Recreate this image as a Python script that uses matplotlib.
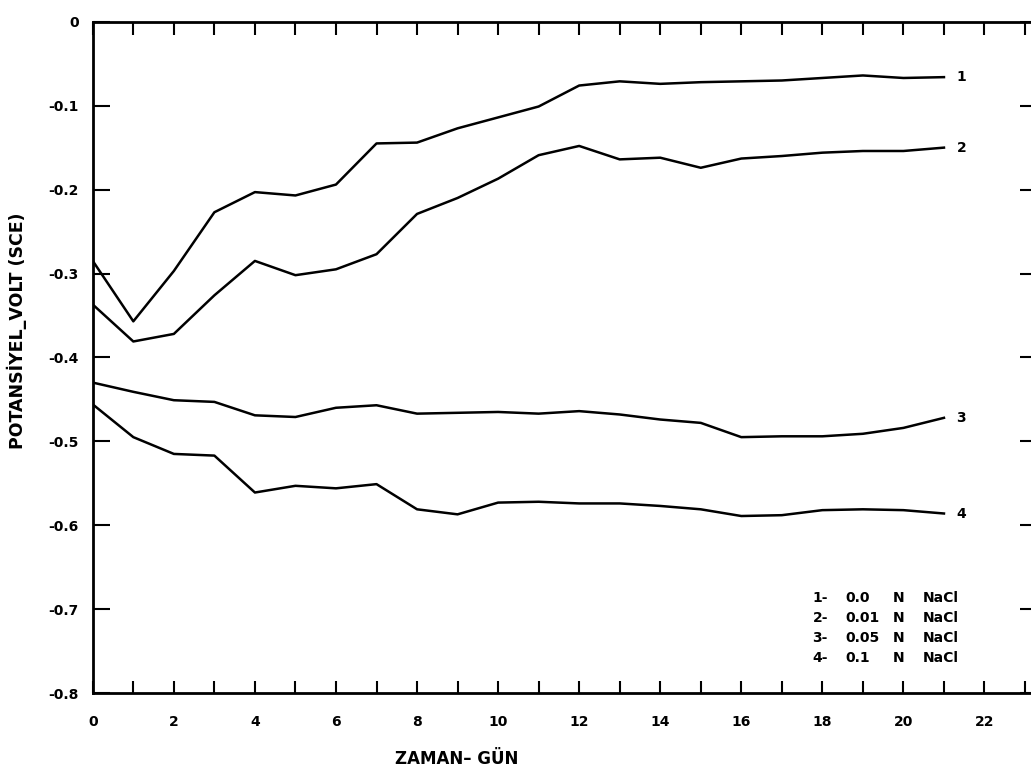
import matplotlib.pyplot as plt
from matplotlib.ticker import MultipleLocator, FuncFormatter

plt.rcParams['axes.unicode_minus'] = False

days = list(range(22))

# potential (V vs SCE)
pot_1 = [-0.285, -0.357, -0.297, -0.227, -0.203, -0.207, -0.194, -0.145, -0.144, -0.127, -0.114,
         -0.101, -0.076, -0.071, -0.074, -0.072, -0.071, -0.070, -0.067, -0.064, -0.067, -0.066]
pot_2 = [-0.337, -0.381, -0.372, -0.326, -0.285, -0.302, -0.295, -0.277, -0.229, -0.210, -0.187,
         -0.159, -0.148, -0.164, -0.162, -0.174, -0.163, -0.160, -0.156, -0.154, -0.154, -0.150]
pot_3 = [-0.430, -0.441, -0.451, -0.453, -0.469, -0.471, -0.460, -0.457, -0.467, -0.466, -0.465,
         -0.467, -0.464, -0.468, -0.474, -0.478, -0.495, -0.494, -0.494, -0.491, -0.484, -0.472]
pot_4 = [-0.456, -0.495, -0.515, -0.517, -0.561, -0.553, -0.556, -0.551, -0.581, -0.587, -0.573,
         -0.572, -0.574, -0.574, -0.577, -0.581, -0.589, -0.588, -0.582, -0.581, -0.582, -0.586]

curve_names = ['1', '2', '3', '4']
legend_rows = [('1-', '0.0', 'N', 'NaCl'),
               ('2-', '0.01', 'N', 'NaCl'),
               ('3-', '0.05', 'N', 'NaCl'),
               ('4-', '0.1', 'N', 'NaCl')]

fig = plt.figure(figsize=(10.31, 7.77), dpi=100)
ax = fig.add_axes([0.090, 0.108, 0.916, 0.864])

for y, name in zip([pot_1, pot_2, pot_3, pot_4], curve_names):
    ax.plot(days, y, color='black', lw=1.8)
    ax.annotate(name, (days[-1], y[-1]), xytext=(9, 0), textcoords='offset points',
                va='center', ha='left', fontsize=10, fontweight='bold')

ax.set_xlim(0, 23.3)
ax.set_ylim(-0.8, 0)

ax.xaxis.set_major_locator(MultipleLocator(2))
ax.xaxis.set_minor_locator(MultipleLocator(1))
ax.yaxis.set_major_locator(MultipleLocator(0.1))
ax.yaxis.set_major_formatter(FuncFormatter(lambda v, p: '0' if abs(v) < 1e-9 else f'{v:.1f}'))

ax.tick_params(which='both', direction='in', top=True, right=True, width=1.5, color='black')
ax.tick_params(axis='x', which='both', length=9, pad=16, labelsize=10)
ax.tick_params(axis='y', which='major', length=12, pad=10, labelsize=10)
for lab in ax.get_xticklabels() + ax.get_yticklabels():
    lab.set_fontweight('bold')

for sp in ax.spines.values():
    sp.set_linewidth(2)

ax.set_ylabel('POTANSİYEL_VOLT (SCE)', fontsize=12.5, fontweight='bold')
ax.yaxis.set_label_coords(-0.07, 0.54)
ax.set_xlabel('ZAMAN– GÜN', fontsize=12, fontweight='bold')
ax.xaxis.set_label_coords(0.385, -0.085)

col_x = [0.762, 0.797, 0.847, 0.879]
row_y = [0.142, 0.112, 0.082, 0.052]
for ry, row in zip(row_y, legend_rows):
    for cx, txt in zip(col_x, row):
        ax.text(cx, ry, txt, transform=ax.transAxes, fontsize=10, fontweight='bold',
                va='center', ha='left')

fig.savefig('out.png', dpi=100)
